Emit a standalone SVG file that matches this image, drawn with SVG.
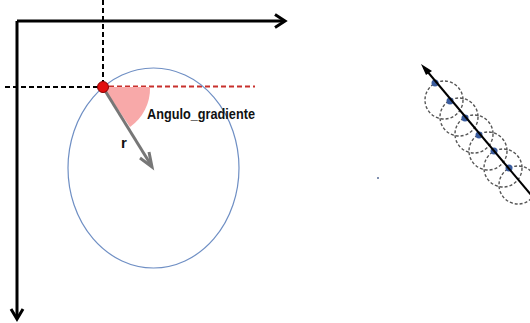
<svg xmlns="http://www.w3.org/2000/svg" width="530" height="323" viewBox="0 0 530 323">
<style>
.axis{stroke:#000;stroke-width:3;fill:none}
.dash{stroke:#000;stroke-width:2;stroke-dasharray:5,3;fill:none}
.rdash{stroke:#c8302c;stroke-width:2;stroke-dasharray:5,3;fill:none}
.circ{stroke:#555;stroke-width:1.4;stroke-dasharray:3,2;fill:none}
.bdot{fill:#3a5c9e}
.lbl{font-family:"Liberation Sans",Arial,sans-serif;font-weight:bold;fill:#111}
</style>
<rect width="530" height="323" fill="#fff"/>
<g id="axes">
<path class="axis" d="M17,21 H284 M17,21 V318"/>
<path class="axis" d="M275,14.5 L285,21 L275,27.5"/>
<path class="axis" d="M11,309 L17,319 L23,309"/>
</g>
<g id="guides">
<line class="dash" x1="103" y1="0" x2="103" y2="83"/>
<line class="dash" x1="5" y1="87" x2="98" y2="87"/>
<line class="rdash" x1="109" y1="86.5" x2="255" y2="86.5"/>
</g>
<g id="circle-region">
<ellipse cx="153.5" cy="168" rx="85.5" ry="100" fill="none" stroke="#6f8fc4" stroke-width="1.2"/>
</g>
<g id="angle">
<path d="M103,87 L150,87 A47,47 0 0 1 130,127 Z" fill="#f8a9a9"/>
<text class="lbl" x="147" y="119" font-size="14.5" textLength="108" lengthAdjust="spacingAndGlyphs">Angulo_gradiente</text>
</g>
<g id="radius">
<line x1="104" y1="89" x2="151" y2="165" stroke="#777" stroke-width="3"/>
<path d="M140,158 L152,167 L149,152" fill="none" stroke="#777" stroke-width="3"/>
<text class="lbl" x="121" y="148" font-size="15">r</text>
</g>
<g id="point">
<circle cx="103" cy="87" r="5.5" fill="#e21010" stroke="#8a0000" stroke-width="1"/>
</g>
<g id="chain">
<circle class="circ" cx="444" cy="100" r="19"/>
<circle class="circ" cx="459" cy="117" r="19"/>
<circle class="circ" cx="474" cy="134" r="19"/>
<circle class="circ" cx="488" cy="151" r="19"/>
<circle class="circ" cx="503" cy="168" r="19"/>
<circle class="circ" cx="518" cy="185" r="19"/>
<circle class="bdot" cx="435" cy="83" r="3.5"/>
<circle class="bdot" cx="450" cy="101" r="3.5"/>
<circle class="bdot" cx="465" cy="118" r="3.5"/>
<circle class="bdot" cx="479" cy="135" r="3.5"/>
<circle class="bdot" cx="494" cy="151" r="3.5"/>
<circle class="bdot" cx="509" cy="168" r="3.5"/>
<line x1="424" y1="67.5" x2="532" y2="196" stroke="#000" stroke-width="2"/>
<path d="M421,64 L432,71 L426,75 Z" fill="#000"/>
</g>
<rect x="377" y="177" width="2" height="2" fill="#8090b0"/>
</svg>
